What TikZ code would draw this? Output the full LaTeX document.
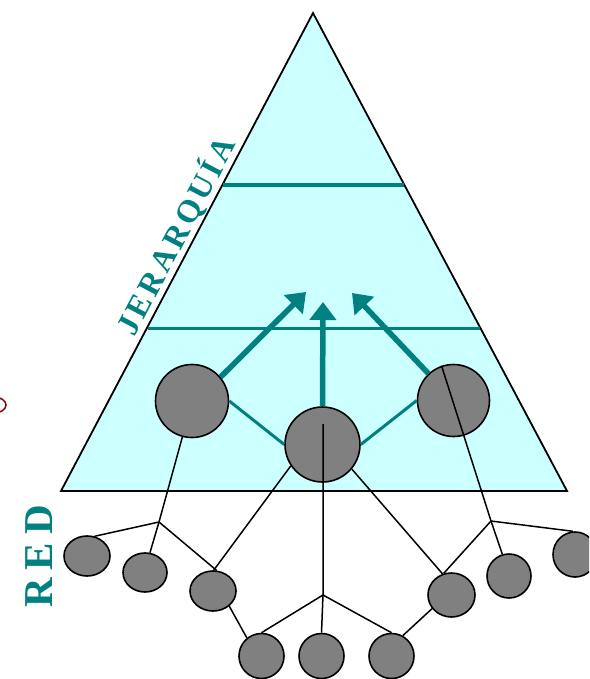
\documentclass[tikz,border=0pt]{standalone}
\usepackage{fontspec}
\setmainfont{Liberation Serif}
\usetikzlibrary{shapes.geometric,arrows.meta}
\definecolor{tealc}{HTML}{008080}
\definecolor{cyanfill}{HTML}{CCFFFF}
\definecolor{grayc}{HTML}{808080}
\definecolor{darkredc}{HTML}{800000}
\newcommand\jsep{\kern3.5pt\relax}
\newcommand\rsep{\kern8pt\relax}
\begin{document}
\begin{tikzpicture}[x=1pt,y=-1pt,
  bigc/.style={circle, draw=black, line width=1.6pt, fill=grayc, inner sep=0pt},
  smallc/.style={ellipse, draw=black, line width=1.6pt, fill=grayc, inner sep=0pt},
  link/.style={black, line width=1.5pt},
  tlink/.style={tealc, line width=3pt},
  level/.style={tealc, line width=3.5pt},
  uparrow/.style={tealc, line width=5.5pt, -{Triangle[length=18pt,width=26pt]}},
  tlabel/.style={text=tealc}
]
\clip (0,0) rectangle (589,679);
% pyramid
\fill[cyanfill] (313,13) -- (567,491) -- (61,491) -- cycle;
\draw[line width=1.8pt] (313,13) -- (567,491) -- (61,491) -- cycle;
\draw[level] (222.5,185) -- (404,185);
\draw[level] (147.5,328.5) -- (479.5,328.5);
% big circles
\node[bigc, minimum size=73pt] (L) at (192,401) {};
\node[bigc, minimum size=75pt] (M) at (322.5,444.5) {};
\node[bigc, minimum size=72pt] (R) at (453.5,400.5) {};
% small circles
\node[smallc, minimum width=46pt, minimum height=40pt] (s1) at (87,556) {};
\node[smallc, minimum width=44pt, minimum height=39pt] (s2) at (145,572.5) {};
\node[smallc, minimum width=46pt, minimum height=40pt] (s3) at (213,591) {};
\node[smallc, minimum width=45pt, minimum height=45pt] (s4) at (261.5,656) {};
\node[smallc, minimum width=45pt, minimum height=45pt] (s5) at (321.5,656) {};
\node[smallc, minimum width=45pt, minimum height=45pt] (s6) at (391.5,656) {};
\node[smallc, minimum width=47pt, minimum height=44pt] (s7) at (451.5,595) {};
\node[smallc, minimum width=44pt, minimum height=44pt] (s8) at (509,576) {};
\node[smallc, minimum width=44pt, minimum height=45pt] (s9) at (575,554.5) {};
% junctions and tips
\coordinate (J1) at (159,522);
\coordinate (J2) at (323,595);
\coordinate (J3) at (491,521);
\coordinate (Mtop) at (323,424);
\coordinate (tipL) at (306,292);
\coordinate (tipM) at (323,302);
\coordinate (tipR) at (352,293);
% teal links
\draw[tlink] (L.east) -- (M.west);
\draw[tlink] (M.east) -- (R.west);
% arrows
\draw[uparrow] (L.40) -- (tipL);
\draw[uparrow] (M.north) -- (tipM);
\draw[uparrow] (R.133) -- (tipR);
% black network lines
\draw[link] (L.255) -- (J1);
\draw[link] (J1) -- (s1.69);
\draw[link] (J1) -- (s2.76);
\draw[link] (J1) -- (s3.80);
\draw[link] (M.214) -- (s3.88);
\draw[link] (s3.-43) -- (s4.129);
\draw[link] (Mtop) -- (J2) -- (s5.north);
\draw[link] (J2) -- (s4.north);
\draw[link] (J2) -- (s6.north);
\draw[link] (M.-40) -- (s7.113);
\draw[link] (R.109) -- (J3);
\draw[link] (J3) -- (s7.110);
\draw[link] (J3) -- (s8.107);
\draw[link] (J3) -- (s9.95);
\draw[link] (s7.215) -- (s6.61);
% labels
\node[tlabel, rotate=62.2, anchor=base, inner sep=0pt, font=\bfseries\fontsize{32}{32}\selectfont] (jer) at (185.5,241)
  {J\jsep E\jsep R\jsep A\jsep R\jsep Q\jsep U\jsep Í\jsep A};
\node[tlabel, rotate=90, anchor=base, inner sep=0pt, font=\bfseries\fontsize{41}{41}\selectfont] (red) at (52,556.5)
  {R\rsep E\rsep D};
% stray arc at the left edge
\draw[darkredc, line width=1.5pt] (-6,405) ellipse [x radius=12, y radius=8];
\end{tikzpicture}
\end{document}
